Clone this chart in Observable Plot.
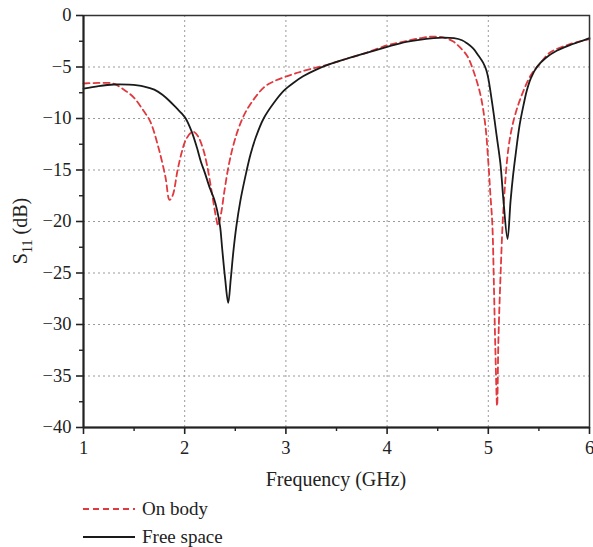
<!DOCTYPE html>
<html><head><meta charset="utf-8">
<script src="https://cdn.jsdelivr.net/npm/d3@7"></script>
<script src="https://cdn.jsdelivr.net/npm/@observablehq/plot@0.6"></script>
<style>
body{margin:0;background:#fff;font-family:"Liberation Serif",serif;}
#legend{padding-left:83px;margin-top:1px}
.row{display:flex;align-items:center;height:28px;font-size:19px;color:#222}
.row svg{margin-right:7px;display:block}
</style></head><body><div id="chart"></div><div id="legend"></div>
<script>
const seriesNames = ["On body", "Free space"];
const onBodyF = [1.00,1.15,1.29,1.40,1.50,1.59,1.66,1.74,1.81,1.85,1.88,1.93,1.97,2.01,2.06,2.09,2.13,2.18,2.22,2.27,2.31,2.33,2.36,2.39,2.43,2.47,2.52,2.58,2.65,2.78,2.88,2.98,3.10,3.24,3.44,3.60,3.77,4.00,4.13,4.33,4.45,4.56,4.65,4.70,4.79,4.85,4.92,4.97,5.00,5.02,5.04,5.055,5.07,5.087,5.10,5.12,5.15,5.20,5.25,5.32,5.42,5.50,5.61,5.80,6.00];
const onBodyS = [-6.6,-6.55,-6.6,-7.2,-8.0,-9.2,-10.3,-12.8,-15.7,-17.9,-17.5,-15.0,-13.3,-12.1,-11.4,-11.3,-11.7,-12.9,-14.5,-17.3,-19.6,-20.4,-19.2,-17.2,-14.8,-13.0,-11.3,-9.8,-8.6,-7.0,-6.4,-6.0,-5.6,-5.2,-4.7,-4.2,-3.7,-2.9,-2.6,-2.2,-2.05,-2.15,-2.5,-2.9,-3.9,-5.3,-7.6,-10.6,-14.2,-17.3,-20.3,-26.0,-32.5,-37.9,-31.5,-25.5,-18.7,-12.8,-10.2,-8.0,-5.8,-4.8,-3.6,-2.8,-2.3];
const freeF = [1.00,1.15,1.30,1.45,1.60,1.70,1.78,1.85,1.92,1.97,2.01,2.07,2.12,2.16,2.20,2.25,2.29,2.32,2.35,2.37,2.40,2.43,2.455,2.48,2.51,2.55,2.60,2.65,2.70,2.78,2.88,2.98,3.08,3.17,3.30,3.44,3.60,3.77,4.00,4.13,4.30,4.46,4.55,4.66,4.74,4.79,4.85,4.90,4.95,4.98,5.00,5.02,5.05,5.08,5.12,5.15,5.19,5.22,5.245,5.27,5.31,5.35,5.38,5.42,5.48,5.57,5.68,5.80,5.90,6.00];
const freeS = [-7.1,-6.85,-6.7,-6.72,-6.9,-7.2,-7.7,-8.3,-9.0,-9.5,-10.0,-11.3,-12.8,-14.2,-15.3,-16.8,-17.8,-18.9,-20.5,-22.6,-25.6,-27.9,-25.6,-23.0,-20.5,-18.0,-15.6,-13.5,-11.9,-10.0,-8.5,-7.3,-6.5,-5.9,-5.25,-4.7,-4.2,-3.7,-3.05,-2.7,-2.4,-2.2,-2.15,-2.2,-2.4,-2.7,-3.2,-3.85,-4.6,-5.3,-6.1,-7.3,-9.3,-11.5,-14.4,-18.0,-21.7,-18.0,-15.5,-13.5,-10.6,-8.6,-7.3,-6.1,-5.0,-4.1,-3.4,-2.9,-2.55,-2.2];
const xTicks = [1,2,3,4,5,6];
const xMinor = [1.5,2.5,3.5,4.5,5.5];
const yTicks = [0,-5,-10,-15,-20,-25,-30,-35,-40];
const yMinor = [-2.5,-7.5,-12.5,-17.5,-22.5,-27.5,-32.5,-37.5];
const xLabel = "Frequency (GHz)";

const onBody = onBodyF.map((f,i)=>({f, s:onBodyS[i]}));
const free = freeF.map((f,i)=>({f, s:freeS[i]}));
const red = "#e0393e", black = "#1a1a1a";

const chart = Plot.plot({
  width: 593, height: 494,
  marginLeft: 83, marginRight: 4, marginTop: 15, marginBottom: 67,
  style: {fontFamily: "Liberation Serif, serif", fontSize: "18.5px", color: "#222", background: "#fff", overflow: "visible"},
  x: {domain: [1,6], label: null},
  y: {domain: [-40,0], label: null},
  marks: [
    Plot.gridX(xTicks.slice(1,-1), {stroke:"#9a9a9a", strokeOpacity:1, strokeDasharray:"2,3"}),
    Plot.gridY(yTicks.slice(1,-1), {stroke:"#9a9a9a", strokeOpacity:1, strokeDasharray:"2,3"}),
    Plot.line(onBody, {x:"f", y:"s", stroke: red, strokeWidth:1.8, strokeDasharray:"6,4", curve:"catmull-rom"}),
    Plot.line(free, {x:"f", y:"s", stroke: black, strokeWidth:1.8, curve:"catmull-rom"}),
    Plot.frame({stroke:"#333", strokeWidth:1.5}),
    Plot.ruleX([1], {stroke:"#222", strokeWidth:2}),
    Plot.ruleY([-40], {stroke:"#222", strokeWidth:2}),
    Plot.axisX({ticks: xTicks, tickSize:7, tickPadding:6, strokeWidth:1.6, tickFormat: d=>String(d), label:null}),
    Plot.axisX({ticks: xMinor, tickSize:4, strokeWidth:1.4, tickFormat: ()=>"", label:null}),
    Plot.axisY({ticks: yTicks, tickSize:7, tickPadding:5, strokeWidth:1.6, tickFormat: d=> d<0 ? "\u2212"+(-d) : String(d), label:null}),
    Plot.axisY({ticks: yMinor, tickSize:4, strokeWidth:1.4, tickFormat: ()=>"", label:null})
  ]
});
document.getElementById("chart").appendChild(chart);

const svg = d3.select(chart);
svg.append("text").attr("x", 336).attr("y", 486).attr("text-anchor","middle")
  .attr("font-size", 20).attr("fill","#222").attr("font-family","Liberation Serif, serif").text(xLabel);
const yl = svg.append("text").attr("transform","translate(27,231) rotate(-90)").attr("text-anchor","middle")
  .attr("font-size", 20).attr("fill","#222").attr("font-family","Liberation Serif, serif");
yl.append("tspan").text("S");
yl.append("tspan").attr("font-size", 14).attr("dy", 5).text("11");
yl.append("tspan").attr("dy", -5).text(" (dB)");

const legend = d3.select("#legend");
[[seriesNames[0], red, "6,4"], [seriesNames[1], black, null]].forEach(([name, color, dash]) => {
  const row = legend.append("div").attr("class","row");
  const s = row.append("svg").attr("width",52).attr("height",10);
  s.append("line").attr("x1",0).attr("x2",52).attr("y1",5).attr("y2",5)
    .attr("stroke",color).attr("stroke-width",1.8).attr("stroke-dasharray",dash);
  row.append("span").text(name);
});
</script>
</body></html>
